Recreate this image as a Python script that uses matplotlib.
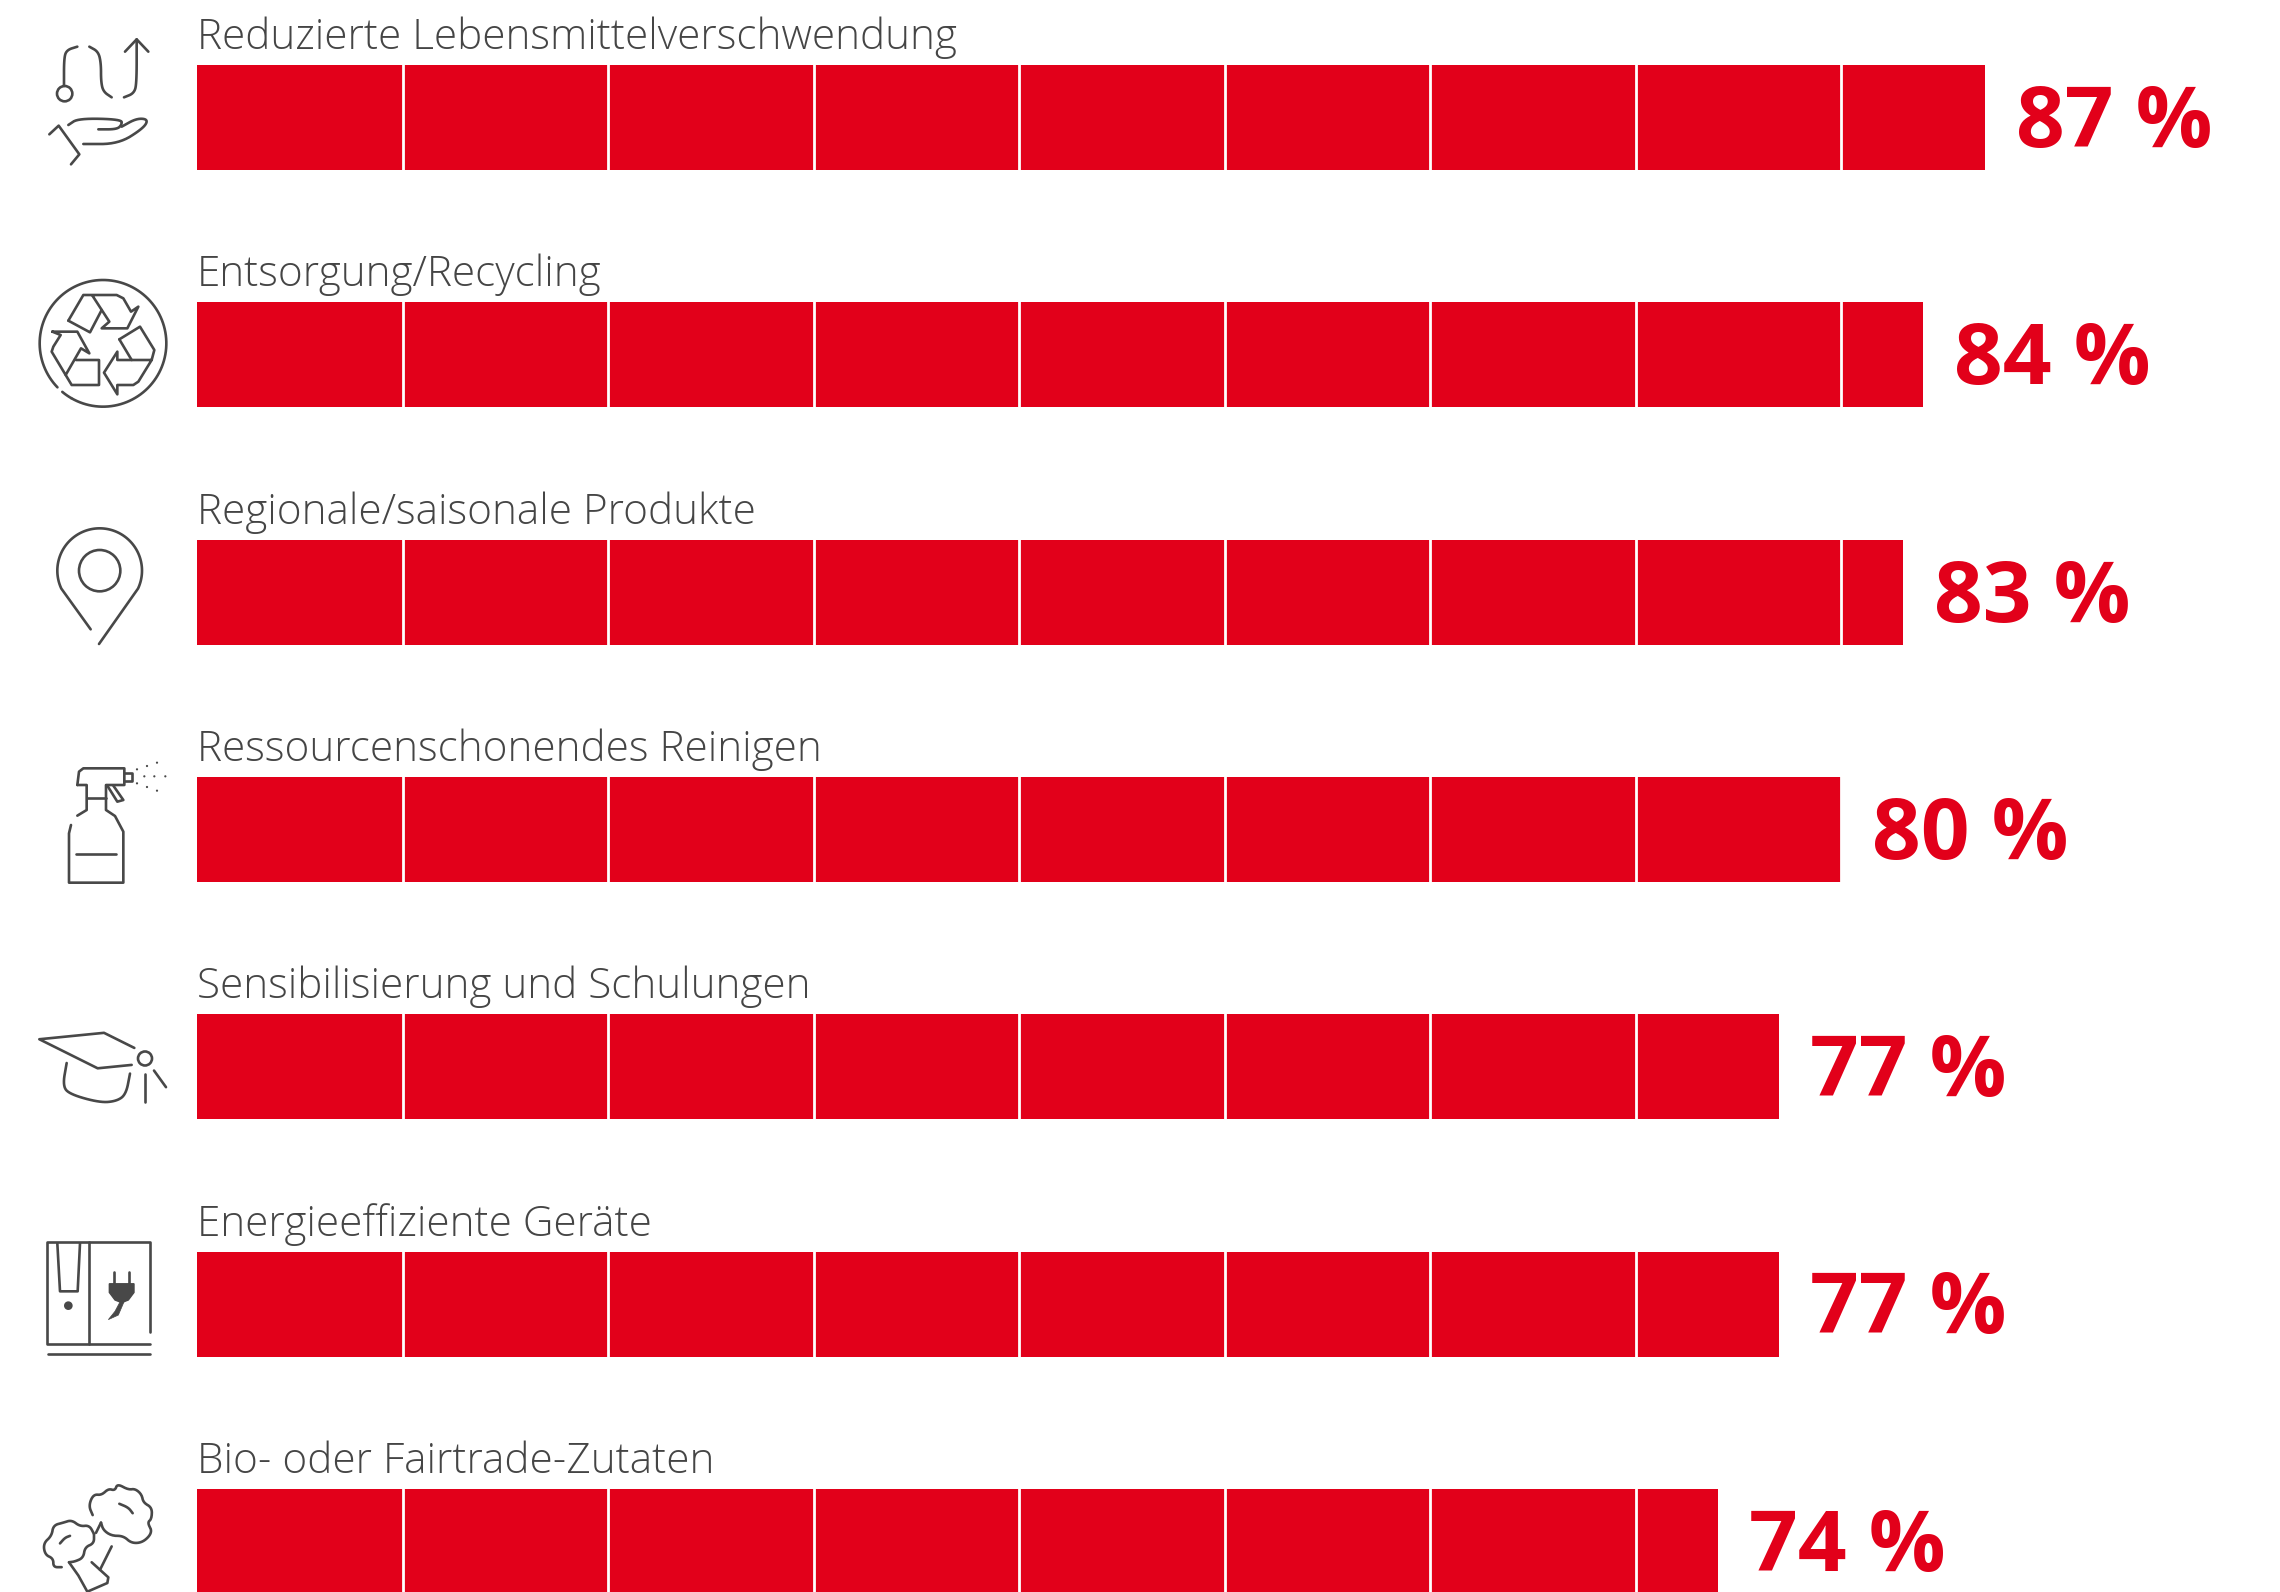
import numpy as np
import matplotlib
matplotlib.use("Agg")
import matplotlib.pyplot as plt
from matplotlib.patches import Polygon, Circle

categories = ["Reduzierte Lebensmittelverschwendung", "Entsorgung/Recycling",
              "Regionale/saisonale Produkte", "Ressourcenschonendes Reinigen",
              "Sensibilisierung und Schulungen", "Energieeffiziente Geräte",
              "Bio- oder Fairtrade-Zutaten"]
values = [87, 84, 83, 80, 77, 77, 74]
value_labels = ["87 %", "84 %", "83 %", "80 %", "77 %", "77 %", "74 %"]

RED = "#e2001a"
TXT = "#454545"
ICON = "#484848"
W, H = 2280, 1592
PX_PER_UNIT = 20.55
X0 = 197
ROW = 237.3
BAR_H = 105
C0 = 117.5

fig = plt.figure(figsize=(W / 100, H / 100), dpi=100, facecolor="white")
ax = fig.add_axes([0, 0, 1, 1])
ax.set_xlim(-X0 / PX_PER_UNIT, (W - X0) / PX_PER_UNIT)
ax.set_ylim((H - C0) / ROW, -C0 / ROW)
ax.axis("off")

pos = np.arange(len(values))
ax.barh(pos, values, height=BAR_H / ROW, color=RED, linewidth=0)
for y, v in zip(pos, values):
    for t in range(10, v + 1, 10):
        ax.plot([t, t], [y - BAR_H / ROW / 2 - 0.005, y + BAR_H / ROW / 2 + 0.005],
                color="white", lw=2.0, solid_capstyle="butt")
PT = 72 / 100
for y, v, c, s in zip(pos, values, categories, value_labels):
    ax.annotate(c, (0, y), xytext=(0, (52.5 + 16) * PT), textcoords="offset points",
                family="Open Sans", weight="light", fontsize=30.4, color=TXT,
                ha="left", va="baseline")
    ax.annotate(s, (v, y), xytext=(31 * PT, -29.5 * PT), textcoords="offset points",
                family="Open Sans", weight="bold", fontsize=61.5, color=RED,
                ha="left", va="baseline")

# overlay for the pictograms, in pixel space
ov = fig.add_axes([0, 0, 1, 1], facecolor="none")
ov.set_xlim(0, W)
ov.set_ylim(H, 0)
ov.axis("off")
LW = 1.9


def chaikin(p, n=3):
    p = np.asarray(p, float)
    for _ in range(n):
        q = [p[0]]
        for a, b in zip(p[:-1], p[1:]):
            q += [0.75 * a + 0.25 * b, 0.25 * a + 0.75 * b]
        q.append(p[-1])
        p = np.array(q)
    return p


def zoomed(p, y0, sy):
    p = np.asarray(p, float)
    return np.c_[p[:, 0] / 3, y0 + p[:, 1] / sy]


def L(p, y0=0, sy=3, smooth=False):
    q = zoomed(p, y0, sy)
    if smooth:
        q = chaikin(q)
    ov.plot(q[:, 0], q[:, 1], color=ICON, lw=LW, solid_capstyle="round", solid_joinstyle="round")


def C(x, y, r, y0=0, sy=3, fill=False):
    ov.add_patch(Circle((x / 3, y0 + y / sy), r / 3, fc=ICON if fill else "none", ec=ICON, lw=LW))


def arc(x, y, r, a0, a1, y0=0, sy=3):
    t = np.radians(np.linspace(a0, a1, 120))
    L(np.c_[x + r * np.cos(t), y + r * np.sin(t)], y0, sy)


# hand / cycle
C(194, 281, 23)
L([(192, 258), (192, 175), (200, 150), (232, 140)], smooth=True)
L([(268, 140), (295, 155), (303, 190), (303, 245), (310, 275), (335, 292)], smooth=True)
L([(372, 292), (402, 280), (410, 250), (410, 118)], smooth=True)
L([(375, 155), (410, 118), (445, 155)])
L([(205, 375), (235, 355), (365, 358), (365, 375), (350, 388), (295, 388)], smooth=True)
L([(365, 380), (410, 355), (445, 358), (430, 385), (355, 432), (250, 432)], smooth=True)
L([(148, 403), (176, 377), (238, 463), (213, 493)])

# recycling
arc(309, 1030, 190, 136, 480)
arc(309, 1030, 190, 120, 130)
L([(205, 962), (250, 885), (350, 885), (370, 895), (393, 935), (415, 920), (382, 985), (305, 985),
   (328, 965), (278, 888)])
L([(305, 930), (270, 997), (205, 962)])
L([(358, 1018), (420, 980), (463, 1050), (455, 1080), (415, 1145), (400, 1155), (352, 1155),
   (352, 1183), (312, 1118), (352, 1055), (352, 1080), (455, 1080)])
L([(358, 1018), (395, 1080)])
L([(157, 995), (232, 995), (268, 1060), (243, 1045), (197, 1125), (155, 1055), (160, 1040),
   (182, 1005), (157, 995)])
L([(228, 1080), (297, 1080), (297, 1155), (215, 1155), (197, 1125)])

# map pin
y = 500
C(299, 212, 62, y)
t = np.radians(np.linspace(155, 385, 120))
pin = np.c_[299 + 127 * np.cos(t), 212 + 127 * np.sin(t)]
L(np.vstack([[(272, 388)], pin, [(297, 432)]]), y)

# spray bottle
L([(232, 855), (237, 815), (250, 805), (373, 805), (373, 855), (318, 855), (318, 930), (345, 948),
   (370, 995), (370, 1148), (207, 1148), (207, 1000), (213, 975)], y)
L([(232, 855), (260, 855), (260, 930), (232, 947)], y)
L([(260, 893), (318, 893)], y)
L([(228, 1063), (348, 1063)], y)
L([(373, 818), (397, 818), (397, 842), (373, 842)], y)
L([(322, 857), (352, 905), (370, 900), (340, 857)], y)
for dx, dy in [(411, 808), (441, 798), (471, 788), (433, 829), (463, 829), (496, 829),
               (411, 850), (441, 861), (471, 872)]:
    ov.add_patch(Circle((dx / 3, y + dy / 3), 1.1, fc=ICON, ec="none"))

# graduation cap
y, s = 1000, 2.65
L([(403, 127), (312, 87), (118, 104), (293, 181), (395, 172)], y, s)
L([(200, 167), (188, 228), (210, 250), (300, 272), (350, 268), (378, 250), (390, 195)], y, s, True)
C(435, 155, 21, y, s)
L([(435, 195), (435, 270)], y, s)
L([(462, 187), (498, 231)], y, s)

# appliance
L([(450, 880), (450, 640), (142, 640), (142, 912), (450, 912)], y, s)
L([(268, 640), (268, 912)], y, s)
L([(143, 937), (450, 937)], y, s)
L([(172, 645), (180, 772), (233, 772), (240, 645)], y, s)
C(205, 810, 9, y, s, fill=True)
L([(342, 722), (342, 752)], y, s)
L([(386, 722), (386, 752)], y, s)
plug = [(328, 752), (402, 752), (402, 775), (385, 795), (365, 802), (345, 795), (328, 775),
        (328, 752)]
ov.add_patch(Polygon(zoomed(plug, y, s), fc=ICON, ec=ICON, lw=1))
ov.add_patch(Polygon(zoomed([(360, 800), (372, 800), (355, 835), (325, 847), (345, 825)], y, s),
                     fc=ICON, ec=ICON, lw=0.5))

# broccoli
L([(278, 1365), (266, 1340), (280, 1310), (305, 1312), (325, 1295), (345, 1300), (352, 1282),
   (385, 1298), (405, 1295), (425, 1310), (430, 1332), (456, 1345), (455, 1375), (442, 1385),
   (458, 1410), (430, 1437), (395, 1440), (370, 1420), (335, 1420), (310, 1405), (303, 1385)],
  y, s, True)
L([(303, 1385), (288, 1412)], y, s)
L([(358, 1335), (385, 1345), (398, 1360)], y, s, True)
L([(282, 1415), (268, 1392), (240, 1395), (215, 1378), (190, 1385), (160, 1392), (155, 1420),
   (130, 1440), (135, 1470), (160, 1480), (160, 1503), (185, 1503)], y, s, True)
L([(282, 1415), (282, 1440), (255, 1450), (250, 1478), (225, 1488), (207, 1490)], y, s, True)
L([(207, 1490), (235, 1525), (262, 1568)], y, s)
L([(180, 1440), (195, 1425), (210, 1420)], y, s, True)
L([(335, 1448), (300, 1510)], y, s)
L([(275, 1490), (325, 1530), (322, 1545), (262, 1568)], y, s)

fig.savefig("out.png", dpi=100, facecolor="white")
